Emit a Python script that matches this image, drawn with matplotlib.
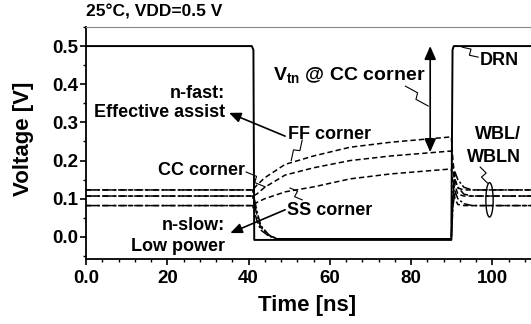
import numpy as np
import matplotlib
matplotlib.use("Agg")
import matplotlib.pyplot as plt
from matplotlib.patches import Ellipse
from matplotlib.ticker import AutoMinorLocator

plt.rcParams["font.family"] = ["Liberation Sans", "DejaVu Sans"]
plt.rcParams["font.weight"] = "bold"
plt.rcParams["mathtext.fontset"] = "custom"
plt.rcParams["mathtext.bf"] = "Liberation Sans:bold"
plt.rcParams["mathtext.rm"] = "Liberation Sans:bold"
plt.rcParams["mathtext.default"] = "bf"

# DRN pulse
drn_t = [0, 40.8, 41.2, 41.4, 89.9, 90.2, 90.5, 110]
drn_v = [0.5, 0.5, 0.49, -0.008, -0.008, 0.49, 0.5, 0.5]

# WBL (rising during assist) per corner
wbl_t = [0, 41, 42, 44, 49, 56, 65, 75, 89.9, 90.3, 90.8, 91.5, 93, 110]
wbl_ff = [0.123, 0.123, 0.135, 0.155, 0.19, 0.212, 0.235, 0.248, 0.262,
          0.2, 0.15, 0.128, 0.123, 0.123]
wbl_cc = [0.107, 0.107, 0.112, 0.13, 0.162, 0.181, 0.2, 0.212, 0.225,
          0.18, 0.135, 0.112, 0.107, 0.107]
wbl_ss = [0.082, 0.082, 0.09, 0.1, 0.118, 0.131, 0.152, 0.165, 0.178,
          0.14, 0.1, 0.085, 0.082, 0.082]

# WBLN (discharged during assist) per corner
wbln_t = [0, 41, 42, 43, 45, 47, 89.9, 90.3, 90.8, 91.5, 93, 95, 110]
wbln_ff = [0.123, 0.123, 0.07, 0.03, 0.005, -0.005, -0.005, 0.12, 0.17,
           0.15, 0.13, 0.123, 0.123]
wbln_cc = [0.107, 0.107, 0.06, 0.025, 0.004, -0.005, -0.005, 0.1, 0.15,
           0.13, 0.112, 0.107, 0.107]
wbln_ss = [0.082, 0.082, 0.045, 0.018, 0.002, -0.005, -0.005, 0.08, 0.12,
           0.1, 0.087, 0.082, 0.082]

vtn_t = 84.7
vtn_lo = 0.222
vtn_hi = 0.5

fig = plt.figure(figsize=(5.31, 3.24), dpi=100)
ax = fig.add_axes([86 / 531, 65 / 324, 447 / 531, 232 / 324])

ax.plot(drn_t, drn_v, color="black", lw=1.4)
for v in (wbl_ff, wbl_cc, wbl_ss):
    ax.plot(wbl_t, v, color="black", lw=1.1, ls=(0, (3.5, 2)))
for v in (wbln_ff, wbln_cc, wbln_ss):
    ax.plot(wbln_t, v, color="black", lw=1.1, ls=(0, (6, 1.5, 1.5, 1.5)))

ax.set_xlim(0, 110)
ax.set_ylim(-0.058, 0.55)
ax.set_xticks([0, 20, 40, 60, 80, 100])
ax.set_xticklabels(["0.0", "20", "40", "60", "80", "100"])
ax.set_yticks([0.0, 0.1, 0.2, 0.3, 0.4, 0.5])
ax.set_yticklabels(["0.0", "0.1", "0.2", "0.3", "0.4", "0.5"])
ax.xaxis.set_minor_locator(AutoMinorLocator(5))
ax.yaxis.set_minor_locator(AutoMinorLocator(2))
ax.tick_params(which="major", direction="out", length=4, width=1.2,
               labelsize=13.5)
ax.tick_params(axis="y", which="major", pad=1.5)
ax.tick_params(axis="x", which="major", pad=4)
ax.tick_params(which="minor", direction="out", length=2.5, width=1)
for lab in ax.get_xticklabels() + ax.get_yticklabels():
    lab.set_fontweight("bold")
ax.spines["left"].set_linewidth(1.3)
ax.spines["bottom"].set_linewidth(1.3)
ax.spines["top"].set_color("#888888")
ax.spines["right"].set_visible(False)

ax.set_xlabel("Time [ns]", fontsize=16, fontweight="bold", va="center")
ax.set_ylabel("Voltage [V]", fontsize=16, fontweight="bold", va="center")
ax.xaxis.set_label_coords(0.494, -0.2)
ax.yaxis.set_label_coords(-0.14, 0.52)

fig.text(86 / 531, 1 - 12 / 324, "25\u00b0C, VDD=0.5 V", fontsize=12.5,
         fontweight="bold", va="center", ha="left")


def squiggle(p0, p1, amp=3):
    tr = ax.transData
    a = np.array(tr.transform(p0))
    b = np.array(tr.transform(p1))
    d = b - a
    n = np.array([-d[1], d[0]]) / np.hypot(*d) * amp
    pts = np.array([a, a + 0.45 * d + n, a + 0.55 * d - n, b])
    pts = tr.inverted().transform(pts)
    ax.plot(pts[:, 0], pts[:, 1], color="black", lw=0.8)


fs = 13
ax.text(34.2, 0.377, "n-fast:", fontsize=fs, ha="right", va="center")
ax.text(34.2, 0.325, "Effective assist", fontsize=fs, ha="right", va="center")
ax.text(34.2, 0.031, "n-slow:", fontsize=fs, ha="right", va="center")
ax.text(34.2, -0.024, "Low power", fontsize=fs, ha="right", va="center")
ax.text(49.8, 0.267, "FF corner", fontsize=fs, ha="left", va="center")
ax.text(39.2, 0.175, "CC corner", fontsize=fs, ha="right", va="center")
ax.text(49.5, 0.068, "SS corner", fontsize=fs, ha="left", va="center")
ax.text(83.5, 0.424, "V$_{tn}$ @ CC corner", fontsize=14,
        ha="right", va="center")
ax.text(97, 0.463, "DRN", fontsize=fs, ha="left", va="center")
ax.text(107, 0.267, "WBL/", fontsize=fs, ha="right", va="center")
ax.text(107, 0.207, "WBLN", fontsize=fs, ha="right", va="center")

arrow = dict(arrowstyle="-|>,head_length=0.7,head_width=0.3", color="black",
             lw=1.2, shrinkA=0, shrinkB=0)
ax.annotate("", xy=(35.2, 0.325), xytext=(49, 0.264), arrowprops=arrow)
ax.annotate("", xy=(35.5, 0.010), xytext=(49, 0.071), arrowprops=arrow)
ax.annotate("", xy=(vtn_t, vtn_hi), xytext=(vtn_t, vtn_lo),
            arrowprops=dict(arrowstyle="<|-|>,head_length=0.8,head_width=0.35",
                            color="black", lw=1.2, shrinkA=0, shrinkB=0))

squiggle((53.2, 0.254), (50.5, 0.2))
squiggle((39.4, 0.17), (44.1, 0.131))
squiggle((53.2, 0.097), (50.2, 0.128))
squiggle((78.6, 0.395), (84.2, 0.343))
squiggle((92.6, 0.497), (96.5, 0.471))
squiggle((97, 0.183), (98.8, 0.141))

ax.add_patch(Ellipse((99.3, 0.097), 1.8, 0.09, fill=False, lw=1,
                     color="black"))

fig.savefig("out.png", dpi=100)
